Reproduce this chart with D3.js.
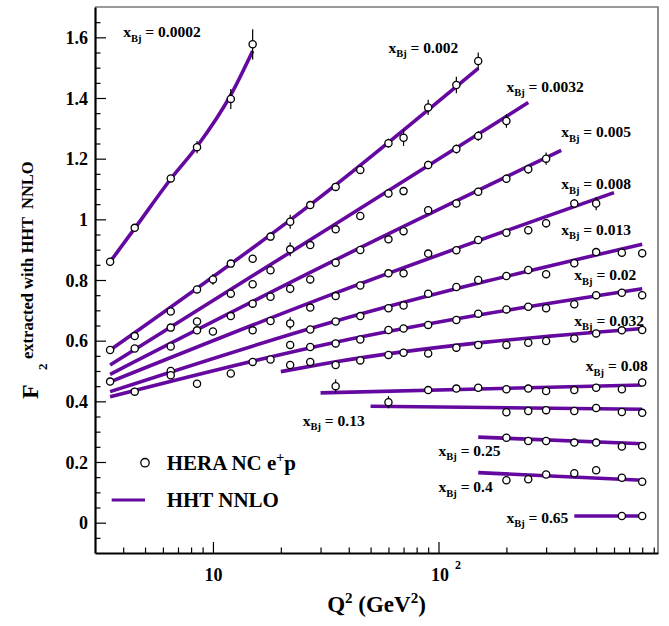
<!DOCTYPE html>
<html><head><meta charset="utf-8">
<script src="https://cdn.jsdelivr.net/npm/d3@7"></script>
<style>
body{margin:0;background:#fff}
svg{display:block}
text{font-family:"Liberation Serif","Times New Roman",serif;font-weight:bold;fill:#000;white-space:pre}
</style>
</head><body>
<svg id="c" width="669" height="626"></svg>
<script>
// ---- data ----
const xBjLabels = ["0.0002","0.002","0.0032","0.005","0.008","0.013","0.02","0.032","0.08","0.13","0.25","0.4","0.65"];

const pointQ2 = [
  [3.5,4.5,6.5,8.5,12,15],
  [3.5,4.5,6.5,8.5,10,12,15,18,22,27,35,45,60,70,90,120,150],
  [4.5,6.5,8.5,12,15,18,22,27,35,45,60,70,90,120,150,200],
  [6.5,8.5,10,12,15,18,22,27,35,45,60,70,90,120,150,200,250,300],
  [3.5,15,18,22,27,35,45,60,70,90,120,150,200,250,300,400,500],
  [6.5,22,27,35,45,60,70,90,120,150,200,250,300,400,500,650,800],
  [4.5,6.5,8.5,12,15,18,22,27,35,45,60,70,90,120,150,200,250,300,400,500,650,800],
  [27,35,45,60,70,90,120,150,200,250,300,400,500,650,800],
  [35,90,120,150,200,250,300,400,500,650,800],
  [60,200,250,300,400,500,650,800],
  [200,250,300,400,500,650,800],
  [200,250,300,400,500,650,800],
  [650,800]
];
const pointF2 = [
  [0.860,0.972,1.135,1.238,1.397,1.577],
  [0.569,0.615,0.696,0.769,0.802,0.854,0.870,0.943,0.992,1.047,1.107,1.163,1.251,1.269,1.369,1.443,1.522],
  [0.574,0.643,0.663,0.755,0.786,0.832,0.901,0.915,0.967,1.011,1.085,1.093,1.179,1.232,1.275,1.324],
  [0.581,0.634,0.630,0.681,0.722,0.745,0.771,0.802,0.857,0.899,0.934,0.961,1.030,1.052,1.091,1.134,1.165,1.200],
  [0.465,0.634,0.665,0.657,0.709,0.747,0.782,0.822,0.822,0.887,0.898,0.932,0.956,0.964,0.987,1.052,1.052],
  [0.500,0.586,0.637,0.663,0.681,0.707,0.716,0.755,0.777,0.800,0.813,0.833,0.819,0.855,0.892,0.890,0.888],
  [0.432,0.486,0.458,0.492,0.530,0.538,0.520,0.579,0.591,0.604,0.635,0.640,0.652,0.668,0.689,0.703,0.712,0.707,0.720,0.750,0.758,0.750],
  [0.530,0.520,0.535,0.553,0.560,0.558,0.577,0.586,0.586,0.593,0.599,0.607,0.624,0.634,0.635],
  [0.450,0.437,0.442,0.445,0.440,0.442,0.434,0.437,0.445,0.440,0.462],
  [0.397,0.364,0.368,0.371,0.368,0.378,0.365,0.362],
  [0.280,0.269,0.269,0.264,0.264,0.251,0.253],
  [0.140,0.143,0.159,0.163,0.173,0.148,0.135],
  [0.022,0.022]
];
const pointErr = [
  [0.006,0.008,0.010,0.020,0.033,0.050],
  [0.006,0.007,0.008,0.010,0.018,0.010,0.010,0.012,0.023,0.012,0.012,0.013,0.015,0.027,0.025,0.027,0.028],
  [0.006,0.007,0.008,0.009,0.009,0.010,0.023,0.010,0.010,0.011,0.012,0.013,0.014,0.015,0.016,0.022],
  [0.006,0.007,0.008,0.008,0.008,0.009,0.015,0.009,0.009,0.010,0.010,0.011,0.012,0.012,0.013,0.014,0.015,0.020],
  [0.006,0.008,0.008,0.020,0.008,0.008,0.009,0.009,0.010,0.010,0.011,0.012,0.012,0.013,0.014,0.015,0.022],
  [0.006,0.012,0.007,0.007,0.008,0.008,0.008,0.009,0.009,0.010,0.010,0.010,0.011,0.012,0.012,0.013,0.014],
  [0.005,0.006,0.006,0.007,0.007,0.007,0.008,0.008,0.008,0.008,0.009,0.009,0.009,0.009,0.010,0.010,0.010,0.011,0.011,0.012,0.012,0.013],
  [0.006,0.006,0.006,0.007,0.007,0.007,0.008,0.008,0.008,0.008,0.009,0.009,0.010,0.010,0.011],
  [0.022,0.006,0.006,0.006,0.006,0.007,0.007,0.007,0.008,0.008,0.009],
  [0.020,0.006,0.006,0.006,0.007,0.007,0.008,0.008],
  [0.008,0.006,0.006,0.006,0.006,0.007,0.007],
  [0.006,0.006,0.006,0.006,0.006,0.007,0.007],
  [0.003,0.003]
];
// HHT NNLO curves
const curveQ2 = [
  [3.5,4.5,6.5,8.5,12,15],
  [3.5,29,150],
  [3.5,33,250],
  [3.5,33,350],
  [3.5,33,600],
  [3.5,33,800],
  [3.5,33,800],
  [20,33,800],
  [30,800],
  [50,800],
  [150,800],
  [150,800],
  [400,800]
];
const curveF2 = [
  [0.860,0.970,1.133,1.240,1.410,1.555],
  [0.569,1.066,1.498],
  [0.520,0.973,1.385],
  [0.489,0.857,1.227],
  [0.464,0.750,1.088],
  [0.432,0.659,0.918],
  [0.415,0.591,0.771],
  [0.498,0.527,0.640],
  [0.428,0.454],
  [0.384,0.374],
  [0.282,0.260],
  [0.165,0.140],
  [0.022,0.022]
];
// label anchors (data coordinates)
const labelQ2 = [4,60,200,350,350,350,400,400,450,25,100,100,200];
const labelF2 = [1.60,1.55,1.42,1.27,1.10,0.95,0.80,0.65,0.50,0.32,0.22,0.10,0.0];

const yMajorTicks = [0,0.2,0.4,0.6,0.8,1.0,1.2,1.4,1.6];
const yTickLabels = ["0","0.2","0.4","0.6","0.8","1","1.2","1.4","1.6"];
const yMinorTicks = [-0.05,0.05,0.1,0.15,0.25,0.3,0.35,0.45,0.5,0.55,0.65,0.7,0.75,0.85,0.9,0.95,1.05,1.1,1.15,1.25,1.3,1.35,1.45,1.5,1.55,1.65];
const xMajorTicks = [10,100];
const xTickBase = ["10","10"];
const xTickExp = ["","2"];
const xMinorTicks = [4,5,6,7,8,9,20,30,40,50,60,70,80,90,200,300,400,500,600,700,800,900];

// ---- drawing ----
const W = 669, H = 626;
const m = {left:95, right:11, top:7, bottom:73};
const svg = d3.select("#c");
const x = d3.scaleLog().domain([3,940]).range([m.left, W-m.right]);
const y = d3.scaleLinear().domain([-0.1,1.7]).range([H-m.bottom, m.top]);
const purple = "#64089f";

// frame (top/right grey)
svg.append("path")
  .attr("d", `M${m.left},${m.top}H${W-m.right}V${H-m.bottom}`)
  .attr("fill","none").attr("stroke","#7a7a7a").attr("stroke-width",1.7);

// y axis
const yAxMaj = d3.axisLeft(y).tickValues(yMajorTicks).tickSizeInner(-11).tickSizeOuter(0).tickPadding(7)
  .tickFormat((d,i)=>yTickLabels[i]);
const gy = svg.append("g").attr("transform",`translate(${m.left},0)`).call(yAxMaj);
gy.select(".domain").attr("stroke","#000").attr("stroke-width",2.2);
gy.selectAll(".tick line").attr("stroke","#000").attr("stroke-width",1.2);
gy.selectAll(".tick text").attr("font-size",18).attr("dy","0.34em")
  .style("font-family",'"Liberation Serif","Times New Roman",serif').style("font-weight","bold");
const gy2 = svg.append("g").attr("transform",`translate(${m.left},0)`)
  .call(d3.axisLeft(y).tickValues(yMinorTicks).tickSizeInner(-5.5).tickSizeOuter(0).tickFormat(""));
gy2.select(".domain").remove();
gy2.selectAll(".tick line").attr("stroke","#000").attr("stroke-width",1.2);

// x axis
const xAxMaj = d3.axisBottom(x).tickValues(xMajorTicks).tickSizeInner(-11).tickSizeOuter(0).tickFormat("");
const gx = svg.append("g").attr("transform",`translate(0,${H-m.bottom})`).call(xAxMaj);
gx.select(".domain").attr("stroke","#000").attr("stroke-width",2.2);
gx.selectAll(".tick line").attr("stroke","#000").attr("stroke-width",1.2);
gx.selectAll(".tick text").remove();
gx.selectAll(".tick").each(function(d,i){
  const t = d3.select(this).append("text").attr("y",28).attr("font-size",18).attr("fill","#000");
  if (xTickExp[i]) {
    t.attr("x",-8).attr("text-anchor","start");
    t.append("tspan").text(xTickBase[i]);
    t.append("tspan").attr("font-size",12).attr("dx",6).attr("dy",-12).text(xTickExp[i]);
  } else {
    t.attr("text-anchor","middle").text(xTickBase[i]);
  }
});
const gx2 = svg.append("g").attr("transform",`translate(0,${H-m.bottom})`)
  .call(d3.axisBottom(x).tickValues(xMinorTicks).tickSizeInner(-5.5).tickSizeOuter(0).tickFormat(""));
gx2.select(".domain").remove();
gx2.selectAll(".tick line").attr("stroke","#000").attr("stroke-width",1.2);

// curves
const line = d3.line().x(d=>x(d[0])).y(d=>y(d[1])).curve(d3.curveMonotoneX);
const gc = svg.append("g");
curveQ2.forEach((qs,i)=>{
  gc.append("path").datum(qs.map((q,j)=>[q,curveF2[i][j]]))
    .attr("d",line).attr("fill","none").attr("stroke",purple).attr("stroke-width",3.6)
    .attr("stroke-linecap","butt");
});

// data points
const pts = [];
pointQ2.forEach((qs,i)=>qs.forEach((q,j)=>pts.push({q, f:pointF2[i][j], e:pointErr[i][j]})));
const gp = svg.append("g");
gp.selectAll("line.err").data(pts).join("line").attr("class","err")
  .attr("x1",d=>x(d.q)).attr("x2",d=>x(d.q))
  .attr("y1",d=>y(d.f-d.e)).attr("y2",d=>y(d.f+d.e))
  .attr("stroke","#000").attr("stroke-width",1.2);
gp.selectAll("circle").data(pts).join("circle")
  .attr("cx",d=>x(d.q)).attr("cy",d=>y(d.f)).attr("r",3.6)
  .attr("fill","#fff").attr("stroke","#000").attr("stroke-width",1.3);

// x_Bj labels
xBjLabels.forEach((lab,i)=>{
  const t = svg.append("text").attr("x",x(labelQ2[i])).attr("y",y(labelF2[i])).attr("font-size",15.5);
  t.append("tspan").text("x");
  t.append("tspan").attr("font-size",10.5).attr("dy",4.5).text("Bj");
  t.append("tspan").attr("dy",-4.5).text(" = " + lab);
});

// legend
svg.append("circle").attr("cx",145).attr("cy",462.7).attr("r",4.2)
  .attr("fill","#fff").attr("stroke","#000").attr("stroke-width",1.3);
const lt1 = svg.append("text").attr("x",166.7).attr("y",469.5).attr("font-size",21);
lt1.append("tspan").text("HERA NC e");
lt1.append("tspan").attr("font-size",14).attr("dy",-8).text("+");
lt1.append("tspan").attr("dy",8).text("p");
svg.append("line").attr("x1",111.7).attr("x2",145).attr("y1",500).attr("y2",500)
  .attr("stroke",purple).attr("stroke-width",3);
svg.append("text").attr("x",166.7).attr("y",507).attr("font-size",21).text("HHT NNLO");

// x title
const xt = svg.append("text").attr("x",(m.left+W-m.right)/2).attr("y",612)
  .attr("text-anchor","middle").attr("font-size",23);
xt.append("tspan").text("Q");
xt.append("tspan").attr("font-size",15).attr("dy",-9).text("2");
xt.append("tspan").attr("dy",9).text(" (GeV");
xt.append("tspan").attr("font-size",15).attr("dy",-9).text("2");
xt.append("tspan").attr("dy",9).text(")");

// y title
const yt = svg.append("g").attr("transform","translate(38,278) rotate(-90)");
yt.append("text").attr("x",-121).attr("y",0).attr("font-size",24).text("F");
yt.append("text").attr("x",-92).attr("y",9).attr("font-size",13).text("2");
yt.append("text").attr("x",-81).attr("y",-5).attr("font-size",16.5).text("extracted with HHT  NNLO");
</script>
</body></html>
